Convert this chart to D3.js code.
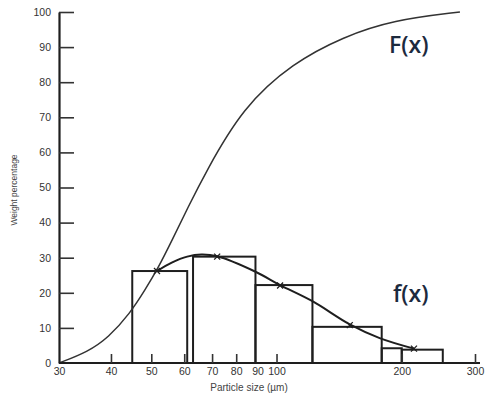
<!DOCTYPE html>
<html>
<head>
<meta charset="utf-8">
<script src="https://cdn.jsdelivr.net/npm/d3@7"></script>
<style>
  body { margin: 0; background: #fff; }
  text { font-family: "Liberation Sans", Arial, sans-serif; }
</style>
</head>
<body>
<div id="container"></div>
<script>
// particle size bins (µm) and weight percentage per bin
const binLo = [45, 63, 89, 122, 179, 200];
const binHi = [61, 89, 122, 179, 200, 251];
const binPct = [26.2, 30.3, 22.2, 10.3, 4.2, 3.8];

// frequency curve f(x)
const fSize = [51.6, 56, 61, 66, 72, 89, 102, 122, 150, 177, 214];
const fPct = [26.2, 28.6, 30.3, 30.9, 30.4, 26, 22.2, 17.6, 11, 7.1, 4.1];

// cross marks on f(x)
const markSize = [51.6, 72, 102, 150, 214];
const markPct = [26.2, 30.3, 22.1, 10.8, 4.1];

// cumulative curve F(x)
const cumSize = [30, 35.2, 39.4, 44.5, 48.3, 51.9, 56.1, 61.3, 67.3, 83, 109.5, 144.5, 190.5, 276];
const cumPct = [0, 3.2, 7.2, 14.2, 20.8, 27, 35, 44.4, 54, 72.9, 85.5, 92.9, 97.7, 100];

const xTicks = [30, 40, 50, 60, 70, 80, 90, 100, 200, 300];
const yTicks = [0, 10, 20, 30, 40, 50, 60, 70, 80, 90, 100];

const width = 486, height = 399;
const ink = '#1e1e1e';

const svg = d3.select('#container')
  .append('svg')
    .attr('width', width)
    .attr('height', height);

const x = d3.scaleLog().domain([30, 300]).range([59, 475]);
const y = d3.scaleLinear().domain([0, 100]).range([363, 12]);

// histogram
svg.append('g')
    .attr('fill', 'none')
    .attr('stroke', ink)
    .attr('stroke-width', 2)
  .selectAll('rect')
    .data(binPct)
    .join('rect')
      .attr('x', (d, i) => x(binLo[i]))
      .attr('y', d => y(d))
      .attr('width', (d, i) => x(binHi[i]) - x(binLo[i]))
      .attr('height', d => y(0) - y(d));

// F(x)
const cum = cumSize.map((s, i) => [s, cumPct[i]]);
svg.append('path')
    .datum(cum)
    .attr('fill', 'none')
    .attr('stroke', '#333')
    .attr('stroke-width', 1.5)
    .attr('d', d3.line().x(d => x(d[0])).y(d => y(d[1])).curve(d3.curveBasis));

// f(x)
const freq = fSize.map((s, i) => [s, fPct[i]]);
svg.append('path')
    .datum(freq)
    .attr('fill', 'none')
    .attr('stroke', ink)
    .attr('stroke-width', 2)
    .attr('d', d3.line().x(d => x(d[0])).y(d => y(d[1])).curve(d3.curveCatmullRom));

svg.append('g')
    .attr('stroke', ink)
    .attr('stroke-width', 1.3)
  .selectAll('path')
    .data(markPct)
    .join('path')
      .attr('d', (d, i) => {
        const cx = x(markSize[i]), cy = y(d), r = 3;
        return `M${cx-r},${cy-r}L${cx+r},${cy+r}M${cx-r},${cy+r}L${cx+r},${cy-r}`;
      });

// axes
const yAxis = svg.append('g')
    .attr('transform', `translate(${x(30)},0)`)
    .call(d3.axisLeft(y).tickValues(yTicks).tickSizeInner(-15).tickSizeOuter(0).tickPadding(8));
const xAxis = svg.append('g')
    .attr('transform', `translate(0,${y(0)})`)
    .call(d3.axisBottom(x).tickValues(xTicks).tickFormat(d3.format('d')).tickSizeInner(-9).tickSizeOuter(0).tickPadding(5));
xAxis.select('.domain').attr('d', `M${x(30)},0H480`);

[yAxis, xAxis].forEach(a => {
  a.select('.domain').attr('stroke', ink).attr('stroke-width', 2.2);
  a.selectAll('.tick line').attr('stroke', '#333').attr('stroke-width', 1.6);
  a.selectAll('.tick text')
    .attr('fill', '#333')
    .style('font-size', '10.5px')
    .style('font-family', '"Liberation Sans", Arial, sans-serif');
});
yAxis.selectAll('.tick line').filter(d => d === 0).remove();
xAxis.selectAll('.tick line').filter(d => d === 30 || d === 90).remove();

// axis titles
svg.append('text')
    .attr('transform', 'translate(17,190) rotate(-90)')
    .attr('text-anchor', 'middle')
    .attr('fill', '#444')
    .style('font-size', '8.5px')
    .text('Weight percentage');

svg.append('text')
    .attr('x', 249)
    .attr('y', 391)
    .attr('text-anchor', 'middle')
    .attr('fill', '#444')
    .style('font-size', '10px')
    .text('Particle size (µm)');

// curve labels
svg.append('text')
    .attr('x', 389)
    .attr('y', 53)
    .attr('fill', '#1c2a3e')
    .style('font-family', '"Open Sans", sans-serif')
    .style('font-weight', 600)
    .style('font-size', '23px')
    .text('F(x)');

svg.append('text')
    .attr('x', 393)
    .attr('y', 302)
    .attr('fill', '#1c2a3e')
    .style('font-family', '"Open Sans", sans-serif')
    .style('font-weight', 600)
    .style('font-size', '23px')
    .text('f(x)');
</script>
</body>
</html>
